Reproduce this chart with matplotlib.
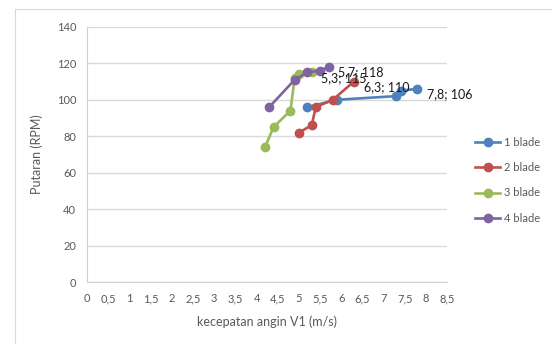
import matplotlib.pyplot as plt
from matplotlib.lines import Line2D
from matplotlib.ticker import FuncFormatter

plt.rcParams['font.family'] = ['Lato', 'DejaVu Sans']

# data
series_names = ["1 blade", "2 blade", "3 blade", "4 blade"]
colors = ["#4F81BD", "#C0504D", "#9BBB59", "#8064A2"]

v1 = [5.2, 5.9, 7.3, 7.4, 7.8]
rpm1 = [96, 100, 102, 105, 106]

v2 = [5.0, 5.3, 5.4, 5.8, 6.3]
rpm2 = [82, 86, 96, 100, 110]

v3 = [4.2, 4.4, 4.8, 4.9, 5.0, 5.3]
rpm3 = [74, 85, 94, 112, 114, 115]

v4 = [4.3, 4.9, 5.2, 5.5, 5.7]
rpm4 = [96, 111, 115, 116, 118]

xs = [v1, v2, v3, v4]
ys = [rpm1, rpm2, rpm3, rpm4]

x_ticks = [i * 0.5 for i in range(18)]
y_ticks = list(range(0, 141, 20))

grey = "#595959"

fig = plt.figure(figsize=(5.52, 3.44), dpi=100)
ax = fig.add_axes([0.158, 0.18, 0.652, 0.742])

for x, y, c, name in zip(xs, ys, colors, series_names):
    ax.plot(x, y, color=c, lw=1.9, marker="o", ms=6, label=name, zorder=3)
    # data label for the last point, comma decimal like the original
    lab = f"{x[-1]:.1f}".replace(".", ",") + f"; {y[-1]}"
    ax.annotate(lab, (x[-1], y[-1]), xytext=(7, -4), textcoords="offset points",
                ha="left", va="center", fontsize=9, color="#1a1a1a", zorder=4)

ax.set_xlim(0, 8.5)
ax.set_ylim(0, 140)
ax.set_xticks(x_ticks)
ax.set_yticks(y_ticks)
ax.xaxis.set_major_formatter(FuncFormatter(lambda v, p: f"{v:g}".replace(".", ",")))
ax.tick_params(length=0, labelsize=8, colors=grey, pad=8)
ax.grid(axis="y", color="#d9d9d9", lw=1)
ax.set_axisbelow(True)
for s in ["top", "right"]:
    ax.spines[s].set_visible(False)
for s in ["left", "bottom"]:
    ax.spines[s].set_color("#d0d0d0")

ax.set_xlabel("kecepatan angin V1 (m/s)", fontsize=9, color=grey, labelpad=8)
ax.set_ylabel("Putaran (RPM)", fontsize=9, color=grey, labelpad=10)

handles = [Line2D([0], [0], color=c, lw=1.9, marker="o", ms=6) for c in colors]
fig.legend(handles, series_names, loc="upper left", bbox_to_anchor=(0.842, 0.632),
           frameon=False, fontsize=8, labelcolor=grey, handlelength=2.3,
           labelspacing=1.3, handletextpad=0.3)

# thin chart border (left and top edge visible in the reference)
fig.add_artist(Line2D([15 / 552, 15 / 552], [0, 1 - 9 / 344], color="#d9d9d9", lw=0.8))
fig.add_artist(Line2D([15 / 552, 1], [1 - 9 / 344, 1 - 9 / 344], color="#d9d9d9", lw=0.8))

plt.savefig("out.png", dpi=100)
